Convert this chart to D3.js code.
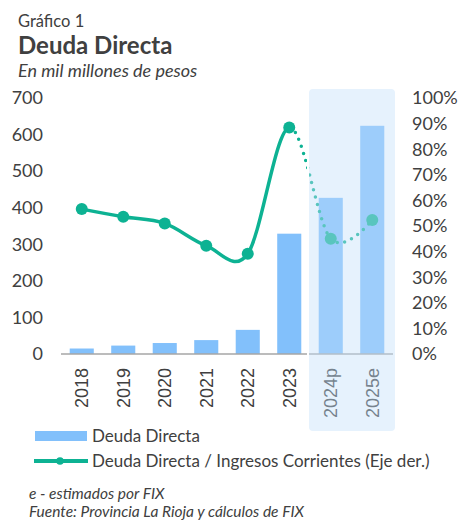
<!DOCTYPE html>
<html>
<head>
<meta charset="utf-8">
<script src="https://cdn.jsdelivr.net/npm/d3@7"></script>
<style>
  body { margin: 0; background: #fff; }
  text { font-family: Lato, "Open Sans", sans-serif; fill: #404040; }
</style>
</head>
<body>
<svg id="chart" width="459" height="521"></svg>
<script>
const categories = ['2018', '2019', '2020', '2021', '2022', '2023', '2024p', '2025e'];
const deuda = [15, 23, 30, 38, 66, 329, 427, 624];
const ratio = [0.566, 0.536, 0.51, 0.423, 0.392, 0.885, 0.45, 0.523];
const leftTicks = [0, 100, 200, 300, 400, 500, 600, 700];
const rightTicks = [0, 0.1, 0.2, 0.3, 0.4, 0.5, 0.6, 0.7, 0.8, 0.9, 1];
const shaded = ['2024p', '2025e'];

const barColor = '#82c0fb';
const lineColor = '#0db293';

const svg = d3.select('#chart');

const x = d3.scaleBand().domain(categories).range([61, 393])
  .paddingInner(0.42).paddingOuter(0.21);
const yL = d3.scaleLinear().domain([0, 700]).range([354, 98]);
const yR = d3.scaleLinear().domain([0, 1]).range([354, 98]);
const cx = d => x(d) + x.bandwidth() / 2;

// titles
svg.append('text').attr('x', 18).attr('y', 27).style('font-size', '16.5px').text('Gráfico 1');
svg.append('text').attr('x', 18).attr('y', 54).style('font-size', '24px').style('font-weight', 'bold').text('Deuda Directa');
svg.append('text').attr('x', 18).attr('y', 77).style('font-size', '18px').style('font-style', 'italic').text('En mil millones de pesos');

// left axis labels
svg.append('g').selectAll('text').data(leftTicks).join('text')
  .attr('x', 43).attr('y', d => yL(d)).attr('dy', '0.35em')
  .attr('text-anchor', 'end').style('font-size', '18px').text(d => d);

// right axis labels
svg.append('g').selectAll('text').data(rightTicks).join('text')
  .attr('x', 412).attr('y', d => yR(d)).attr('dy', '0.35em')
  .style('font-size', '18px').text(d => d3.format('.0%')(d));

// bars
svg.append('g').selectAll('rect').data(deuda).join('rect')
  .attr('x', (d, i) => x(categories[i]))
  .attr('y', d => yL(d))
  .attr('width', x.bandwidth())
  .attr('height', d => yL(0) - yL(d))
  .attr('fill', barColor);

// x axis line
svg.append('line').attr('x1', 61).attr('x2', 393).attr('y1', 354).attr('y2', 354)
  .attr('stroke', '#a6a6a6').attr('stroke-width', 1.5);

// x labels
svg.append('g').selectAll('text').data(categories).join('text')
  .attr('transform', d => `translate(${cx(d)},368) rotate(-90)`)
  .attr('dy', '0.35em').attr('text-anchor', 'end')
  .style('font-family', '"Liberation Sans", Arial, sans-serif')
  .style('font-size', '18px').text(d => d);

// line (solid up to 2023, dotted after)
const pts = categories.map((c, i) => [cx(c), yR(ratio[i])]);
const lineGen = d3.line().curve(d3.curveCardinal.tension(0));
const x2023 = cx('2023');
const defs = svg.append('defs');
defs.append('clipPath').attr('id', 'clipL').append('rect')
  .attr('x', 0).attr('y', 0).attr('width', x2023).attr('height', 521);
defs.append('clipPath').attr('id', 'clipR').append('rect')
  .attr('x', x2023).attr('y', 0).attr('width', 459 - x2023).attr('height', 521);

svg.append('path').attr('d', lineGen(pts.slice(0, 7)))
  .attr('clip-path', 'url(#clipL)')
  .attr('fill', 'none').attr('stroke', lineColor).attr('stroke-width', 3.5);
svg.append('path').attr('d', lineGen(pts.slice(4)))
  .attr('clip-path', 'url(#clipR)')
  .attr('fill', 'none').attr('stroke', lineColor).attr('stroke-width', 3.5)
  .attr('stroke-linecap', 'round').attr('stroke-dasharray', '0 7.5');

svg.append('g').selectAll('circle').data(pts).join('circle')
  .attr('cx', d => d[0]).attr('cy', d => d[1]).attr('r', 6)
  .attr('fill', lineColor);

// shaded forecast region
const step = x.step(), gap = step - x.bandwidth();
const sx0 = x(shaded[0]) - gap / 2 - 2;
const sx1 = x(shaded[shaded.length - 1]) + x.bandwidth() + gap / 2 + 3;
svg.append('rect').attr('x', sx0).attr('y', 88).attr('width', sx1 - sx0).attr('height', 344)
  .attr('rx', 5).attr('fill', 'rgba(195,224,250,0.42)')
  .attr('stroke', '#fff').attr('stroke-width', 2);

// legend
svg.append('rect').attr('x', 35).attr('y', 431).attr('width', 52).attr('height', 10).attr('fill', barColor);
svg.append('text').attr('x', 92).attr('y', 442).style('font-size', '17px').text('Deuda Directa');
svg.append('line').attr('x1', 34).attr('x2', 88).attr('y1', 461).attr('y2', 461)
  .attr('stroke', lineColor).attr('stroke-width', 4);
svg.append('circle').attr('cx', 60).attr('cy', 461).attr('r', 3.8).attr('fill', lineColor);
svg.append('text').attr('x', 92).attr('y', 467).style('font-size', '17px').text('Deuda Directa / Ingresos Corrientes (Eje der.)');

// notes
svg.append('text').attr('x', 29).attr('y', 499).style('font-size', '15.5px').style('font-style', 'italic').text('e - estimados por FIX');
svg.append('text').attr('x', 29).attr('y', 517).style('font-size', '15.5px').style('font-style', 'italic').text('Fuente: Provincia La Rioja  y cálculos de FIX');
</script>
</body>
</html>
